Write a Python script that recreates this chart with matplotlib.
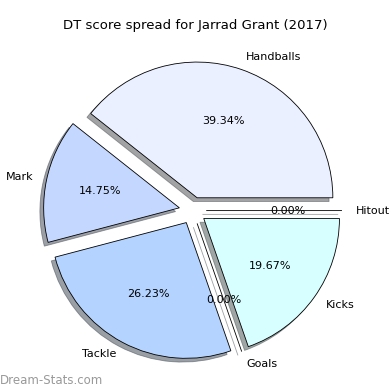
import matplotlib
matplotlib.use("Agg")
import matplotlib.pyplot as plt

labels = ["Handballs", "Mark", "Tackle", "Goals", "Kicks", "Hitout"]
values = [24, 9, 16, 0, 12, 0]
colors = ["#EAF0FF", "#C4D8FF", "#B4D4FF", "#C8E8FF", "#D8FFFF", "#E0F0FF"]
explode = [0.1] * len(values)

fig = plt.figure(figsize=(3.9, 3.9), dpi=100)
ax = fig.add_axes([0.024, 0.025, 0.94, 0.87])
ax.pie(values, labels=labels, colors=colors, explode=explode, autopct="%.2f%%",
       shadow=True, startangle=0, textprops={"fontsize": 8},
       wedgeprops={"edgecolor": "black", "linewidth": 0.6})
ax.set_aspect("equal")
fig.suptitle("DT score spread for Jarrad Grant (2017)", fontsize=9.5, y=0.95)
fig.text(0.0, 0.025, "Dream-Stats.com", fontsize=8.5, color="#999999", ha="left", va="center")
fig.savefig("out.png", dpi=100)
